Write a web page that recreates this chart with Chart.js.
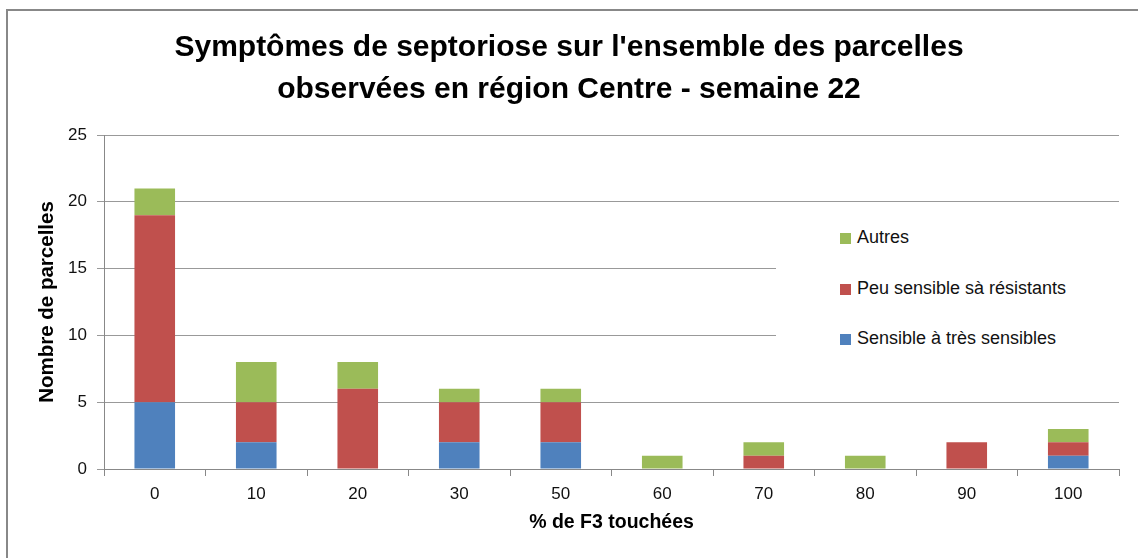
<!DOCTYPE html>
<html>
<head>
<meta charset="utf-8">
<script src="https://cdn.jsdelivr.net/npm/chart.js@4.4.1/dist/chart.umd.min.js"></script>
<style>
    html, body { margin: 0; padding: 0; background: #fff; }
    #wrap { position: relative; width: 1138px; height: 558px; overflow: hidden; }
    #frame { position: absolute; left: 6px; top: 9px; width: 1200px; height: 600px;
             border-top: 2px solid #888; border-left: 2px solid #888; pointer-events: none; }
    #legend { position: absolute; left: 776px; top: 214px; width: 350px; height: 156px;
              background: #fff; font-family: "Liberation Sans", Arial, sans-serif; font-size: 18px; color: #111; }
    #legend div { position: absolute; left: 64px; height: 20px; line-height: 20px; white-space: nowrap; }
    #legend span { display: inline-block; width: 11px; height: 11px; margin-right: 6px; vertical-align: -1px; }
</style>
</head>
<body>
<div id="wrap">
    <canvas id="chart" width="1138" height="558"></canvas>
    <div id="legend"></div>
    <div id="frame"></div>
</div>
<script>
const categories = ["0", "10", "20", "30", "50", "60", "70", "80", "90", "100"];
const sensibles = [5, 2, 0, 2, 2, 0, 0, 0, 0, 1];
const peuSensibles = [14, 3, 6, 3, 3, 0, 1, 0, 2, 1];
const autres = [2, 3, 2, 1, 1, 1, 1, 1, 0, 1];
const yTicks = [0, 5, 10, 15, 20, 25];

const blue = "#4F81BD";
const red = "#C0504D";
const green = "#9BBB59";
const font = "'Liberation Sans', Arial, sans-serif";

const ctx = document.getElementById("chart").getContext("2d");

const chart = new Chart(ctx, {
    type: "bar",
    data: {
        labels: categories,
        datasets: [
            { label: "Sensible à très sensibles", data: sensibles, backgroundColor: blue },
            { label: "Peu sensible sà résistants", data: peuSensibles, backgroundColor: red },
            { label: "Autres", data: autres, backgroundColor: green }
        ]
    },
    options: {
        animation: false,
        responsive: false,
        layout: { padding: 0 },
        datasets: { bar: { barPercentage: 0.4, categoryPercentage: 1, borderWidth: 0 } },
        plugins: {
            legend: { display: false },
            tooltip: { enabled: false },
            title: {
                display: true,
                text: ["Symptômes de septoriose sur l'ensemble des parcelles",
                       "observées en région Centre - semaine 22"],
                color: "#000",
                font: { family: font, size: 30, weight: "bold", lineHeight: 1.4 },
                padding: { top: 27, bottom: 24 }
            }
        },
        scales: {
            x: {
                stacked: true,
                offset: true,
                grid: { offset: true, drawOnChartArea: false, drawTicks: true, tickLength: 7, color: "#888" },
                border: { color: "#888" },
                ticks: { color: "#111", padding: 8, font: { family: font, size: 17 } },
                title: {
                    display: true, text: "% de F3 touchées", color: "#000",
                    font: { family: font, size: 19.5, weight: "bold" },
                    padding: { top: 0, bottom: 24 }
                },
                afterFit: (scale) => { scale.height = 89; }
            },
            y: {
                stacked: true,
                min: 0,
                max: 25,
                afterBuildTicks: (scale) => { scale.ticks = yTicks.map(v => ({ value: v })); },
                grid: { color: "#999", tickLength: 7 },
                border: { color: "#888" },
                ticks: { color: "#111", padding: 10, font: { family: font, size: 17 } },
                title: {
                    display: true, text: "Nombre de parcelles", color: "#000",
                    font: { family: font, size: 20.5, weight: "bold" },
                    padding: { top: 35, bottom: 0 }
                },
                afterFit: (scale) => { scale.width = 104; }
            },
            // empty right margin so the title stays centred on the whole frame
            yRight: {
                position: "right",
                min: 0,
                max: 25,
                grid: { drawOnChartArea: false, drawTicks: false },
                border: { display: false },
                ticks: { display: false },
                afterFit: (scale) => { scale.width = 19; }
            }
        }
    }
});

// legend, top to bottom in reverse dataset order
const legendEl = document.getElementById("legend");
const rows = [13, 64, 114];
chart.data.datasets.slice().reverse().forEach((ds, i) => {
    const item = document.createElement("div");
    item.style.top = rows[i] + "px";
    item.innerHTML = '<span style="background:' + ds.backgroundColor + '"></span>' + ds.label;
    legendEl.appendChild(item);
});
</script>
</body>
</html>
